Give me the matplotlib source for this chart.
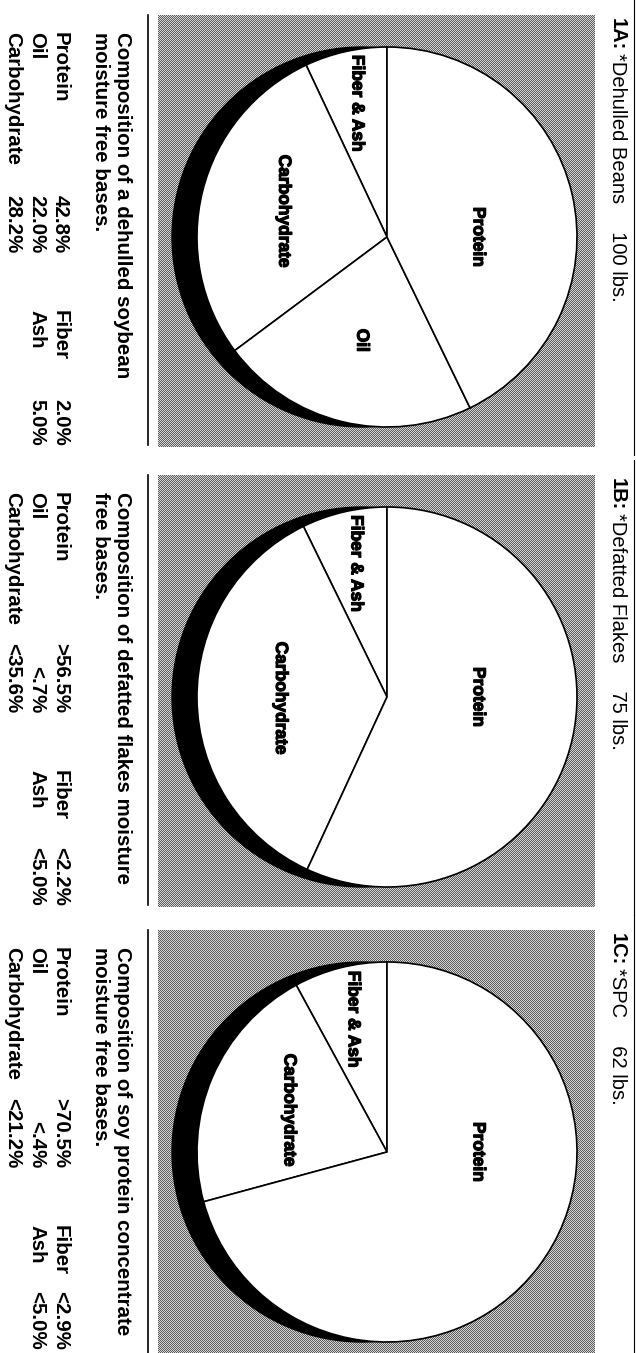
import numpy as np
import matplotlib
matplotlib.use('Agg')
import matplotlib.pyplot as plt
from matplotlib import font_manager
from matplotlib import patheffects
from matplotlib.patches import Circle

# one panel per processing stage
panel_ids = ['1A:', '1B:', '1C:']
panel_names = ['*Dehulled Beans', '*Defatted Flakes', '*SPC']
panel_weights = ['100 lbs.', '75 lbs.', '62 lbs.']
captions = [['Composition of a dehulled soybean', 'moisture free bases.'],
            ['Composition of defatted flakes moisture', 'free bases.'],
            ['Composition of soy protein concentrate', 'moisture free bases.']]

# composition, % on a moisture free basis
protein = [42.8, 56.5, 70.5]
oil = [22.0, 0.7, 0.4]
carbohydrate = [28.2, 35.6, 21.2]
fiber = [2.0, 2.2, 2.9]
ash = [5.0, 5.0, 5.0]
protein_sign = ['', '>', '>']
limit_sign = ['', '<', '<']

# slices drawn in each pie, counter-clockwise from the top
pie_parts = [['Fiber & Ash', 'Carbohydrate', 'Oil', 'Protein'],
             ['Fiber & Ash', 'Carbohydrate', 'Protein'],
             ['Fiber & Ash', 'Carbohydrate', 'Protein']]

W, H = 636, 1353
fig = plt.figure(figsize=(W / 100, H / 100), dpi=100)
ax = fig.add_axes([0, 0, 1, 1])
ax.set_xlim(0, W)
ax.set_ylim(H, 0)
ax.axis('off')

plt.rcParams['font.family'] = 'Liberation Sans'
installed = {f.name for f in font_manager.fontManager.ttflist}
if 'Liberation Sans Narrow' in installed:
    narrow, label_size = 'Liberation Sans Narrow', 14.5
else:
    narrow, label_size = 'Liberation Sans', 12.5
heavy = [patheffects.withStroke(linewidth=0.9, foreground='black')]


def pct(v, sign=''):
    s = f'{v:.1f}'
    if s.startswith('0'):
        s = s[1:]
    return f'{sign}{s}%'


def vtext(x, y, s, **kw):
    # everything reads top to bottom on the page
    ax.text(x, y, s, rotation=-90, rotation_mode='anchor',
            va='baseline', **kw)


tops = [15, 475, 930]
R = 190
box_h, box_w = 432, 437
yy, xx = np.mgrid[0:box_h, 0:box_w]
grey = np.where((xx + yy) % 2 == 0, 0.36, 0.84)
stipple = np.dstack([grey, grey, grey])

for i, top in enumerate(tops):
    fig.figimage(stipple, xo=158, yo=H - top - box_h, zorder=-1, origin='upper')
    ax.plot([148, 148], [top, top + 430], color='black', lw=1.2)
    ax.plot([634, 634], [top - 15, top + 440], color='black', lw=0.8)

    # heading
    vtext(612, top + 3, panel_ids[i], ha='left', fontsize=14.5, fontweight='bold')
    vtext(612, top + 38, panel_names[i] + '     ' + panel_weights[i],
          ha='left', fontsize=14.5)

    # caption and composition table
    for k, line in enumerate(captions[i]):
        vtext(117 - 22 * k, top + 17, line, ha='left', fontsize=14.8, fontweight='bold')
    rows = [('Protein', pct(protein[i], protein_sign[i]), 'Fiber', pct(fiber[i], limit_sign[i])),
            ('Oil', pct(oil[i], limit_sign[i]), 'Ash', pct(ash[i], limit_sign[i])),
            ('Carbohydrate', pct(carbohydrate[i], limit_sign[i]), None, None)]
    right_end = min(top + 431, H - 3)
    for k, (n1, v1, n2, v2) in enumerate(rows):
        x = 55 - 24 * k
        vtext(x, top + 17, n1, ha='left', fontsize=14.8, fontweight='bold')
        vtext(x, top + 238, v1, ha='right', fontsize=14.8, fontweight='bold')
        if n2:
            vtext(x, top + 295, n2, ha='left', fontsize=14.8, fontweight='bold')
            vtext(x, right_end, v2, ha='right', fontsize=14.8, fontweight='bold')

    # pie with its dark rim
    values = {'Protein': protein[i], 'Oil': oil[i], 'Carbohydrate': carbohydrate[i],
              'Fiber & Ash': fiber[i] + ash[i]}
    cx, cy, s = 387, top + 222, 240
    pax = fig.add_axes([(cx - s) / W, (H - cy - s) / H, 2 * s / W, 2 * s / H])
    pax.add_patch(Circle((-25 / R, 0), 1, facecolor='black', edgecolor='black', lw=1))
    parts = pie_parts[i]
    wedges, _ = pax.pie([values[p] for p in parts], startangle=90, counterclock=True,
                        colors=['white'] * len(parts),
                        wedgeprops=dict(edgecolor='black', linewidth=1.2))
    pax.set_xlim(-s / R, s / R)
    pax.set_ylim(-s / R, s / R)
    pax.axis('off')
    for w, name in zip(wedges, parts):
        if name == 'Protein':
            ang, r = 0.0, 0.48
        else:
            ang = np.radians((w.theta1 + w.theta2) / 2)
            r = 0.72 if name == 'Fiber & Ash' else 0.56
        pax.text(r * np.cos(ang), r * np.sin(ang), name, rotation=-90,
                 ha='center', va='center', family=narrow, fontweight='bold',
                 fontsize=label_size, path_effects=heavy)

fig.savefig('out.png', dpi=100)
